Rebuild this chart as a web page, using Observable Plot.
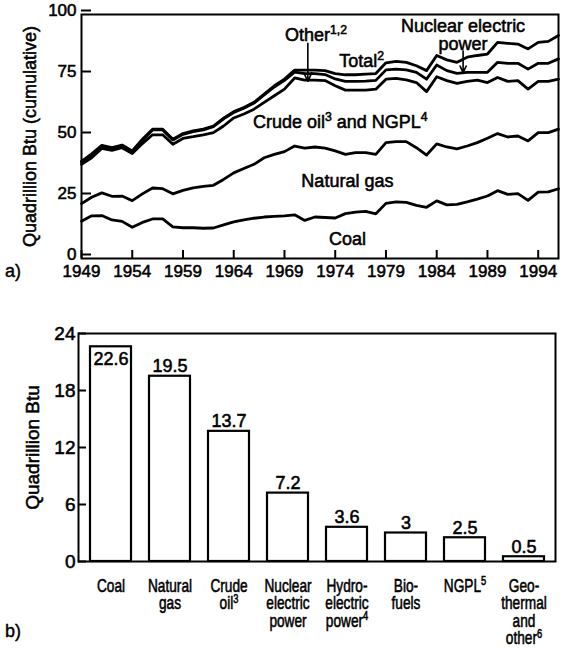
<!DOCTYPE html>
<html><head><meta charset="utf-8">
<script src="https://cdn.jsdelivr.net/npm/d3@7"></script>
<script src="https://cdn.jsdelivr.net/npm/@observablehq/plot@0.6"></script>
<style>
body{margin:0;background:#fff;}
#wrap{position:relative;width:561px;height:650px;background:#fff;}
#a,#b{position:absolute;left:0;}
#a{top:0}
#b{top:300px}
#wrap svg text{stroke:#000;stroke-width:0.55px;paint-order:stroke fill;}
.tag{position:absolute;left:5px;font:18px "Liberation Sans",Arial,sans-serif;color:#000;-webkit-text-stroke:0.4px #000;}
</style></head><body>
<div id="wrap"><div id="a"></div><div id="b"></div>
<div class="tag" style="top:261px">a)</div><div class="tag" style="top:621px">b)</div></div>
<script>
// ---- Panel a: cumulative production, quadrillion Btu ----
const years = [1949,1950,1951,1952,1953,1954,1955,1956,1957,1958,1959,1960,1961,1962,1963,1964,1965,1966,1967,1968,1969,1970,1971,1972,1973,1974,1975,1976,1977,1978,1979,1980,1981,1982,1983,1984,1985,1986,1987,1988,1989,1990,1991,1992,1993,1994,1995,1996];
const coal = [15.3,17.5,17.6,15.8,15.2,12.8,14.8,16.2,16.2,13.0,12.6,12.6,12.4,12.5,13.8,15.0,15.8,16.5,17.0,17.3,17.5,17.9,15.6,17.0,16.8,16.6,18.4,19.0,19.3,18.3,22.6,23.2,23.0,21.8,21.0,23.6,22.0,22.2,23.2,24.3,25.6,27.8,26.3,26.6,23.8,27.2,27.3,28.6];
const plusNaturalGas = [22.5,25.1,26.9,25.5,25.6,23.7,26.5,28.9,28.6,26.5,27.9,28.9,29.6,30.0,32.4,35.1,36.9,38.6,41.3,42.7,43.8,46.1,45.2,45.7,45.2,44.1,42.7,43.4,43.4,42.7,47.5,47.9,47.9,45.4,42.4,47.0,45.7,44.9,46.1,47.5,49.3,51.2,49.8,50.2,48.2,51.6,51.6,53.0];
const plusCrudeNgpl = [38.6,41.3,45.1,44.3,45.4,43.0,47.1,50.7,50.7,46.8,49.2,49.9,50.7,51.6,54.3,57.6,59.2,61.2,64.0,66.7,69.4,74.0,73.1,73.1,72.9,70.8,69.0,69.0,69.0,69.4,73.5,73.8,73.2,72.1,68.4,74.5,72.9,71.8,72.6,73.1,72.1,74.2,72.6,72.9,69.4,72.6,72.6,73.5];
const plusOther = [39.6,42.5,46.0,45.1,46.2,43.8,48.5,52.7,52.7,48.6,50.9,52.0,52.7,54.0,57.2,59.8,61.6,63.7,67.0,70.3,73.0,76.4,75.8,75.8,75.4,73.6,72.6,72.6,72.7,73.0,77.3,77.6,77.3,76.3,73.5,79.3,77.0,75.9,76.3,76.3,76.3,80.4,80.0,80.0,77.6,80.0,80.0,81.8];
const totalWithNuclear = [39.8,42.9,46.4,45.4,46.5,44.1,48.9,53.0,53.0,48.9,51.2,52.3,53.0,54.3,57.5,60.2,61.9,64.0,67.4,70.8,73.5,77.2,77.2,77.2,77.0,75.8,75.3,75.3,75.6,75.8,80.2,80.8,80.4,79.0,77.0,83.2,81.4,80.4,82.5,83.2,83.8,88.6,88.2,87.9,85.9,88.6,89.0,91.4];
const seriesNames = ["Coal","Natural gas","Crude oil and NGPL","Other","Nuclear"];
const seriesValues = [coal, plusNaturalGas, plusCrudeNgpl, plusOther, totalWithNuclear];
const yearTicks = [1949,1954,1959,1964,1969,1974,1979,1984,1989,1994];
const valueTicksA = [0,25,50,75,100];

// annotation labels (anchored in data units)
const annoText = ["Other^1,2","Total^2","Nuclear electric\npower","Crude oil^3 and NGPL^4","Natural gas","Coal"];
const annoYear = [1972.1,1976.6,1986.6,1974.5,1975.2,1975.2];
const annoValue = [91.4,81.0,91.7,55.7,31.7,7.8];
const arrowYear = [1971.3,1986.6];
const arrowFrom = [88.2,85.0];
const arrowTo = [72.6,76.2];

// ---- Panel b: 1996 production by source ----
const sources = ["Coal","Natural\ngas","Crude\noil^3","Nuclear\nelectric\npower","Hydro-\nelectric\npower^4","Bio-\nfuels","NGPL^5","Geo-\nthermal\nand\nother^6"];
const quads = [22.6,19.5,13.7,7.2,3.6,3,2.5,0.5];
const quadLabels = ["22.6","19.5","13.7","7.2","3.6","3","2.5","0.5"];
const valueTicksB = [0,6,12,18,24];

const FONT = '"Liberation Sans", Arial, Helvetica, sans-serif';

const lineRows = [];
seriesNames.forEach((s, i) => years.forEach((yr, j) => lineRows.push({series: s, year: yr, value: seriesValues[i][j]})));
const annoRows = annoText.map((t, i) => ({text: t, year: annoYear[i], value: annoValue[i]}));
const arrowRows = arrowYear.map((yr, i) => ({year: yr, from: arrowFrom[i], to: arrowTo[i]}));

const chartA = Plot.plot({
  width: 561, height: 300,
  marginLeft: 81, marginRight: 3, marginTop: 14, marginBottom: 42,
  x: {domain: [1949, 1996]},
  y: {domain: [0, 100]},
  style: {fontFamily: FONT, fontSize: "17px", color: "#000", background: "#fff", overflow: "visible"},
  marks: [
    Plot.axisX({ticks: yearTicks, tickFormat: d => String(d), tickSize: -8, tickPadding: 14, strokeWidth: 2, fontSize: 17, label: null}),
    Plot.axisY({ticks: valueTicksA, tickSize: -10, tickPadding: 15, strokeWidth: 2, fontSize: 17, dy: -4, label: null}),
    Plot.text(["Quadrillion Btu (cumulative)"], {frameAnchor: "left", textAnchor: "middle", dx: -51, rotate: -90, fontSize: 18}),
    Plot.line(lineRows, {x: "year", y: "value", z: "series", stroke: "#000", strokeWidth: 2.8, strokeLinejoin: "round"}),
    Plot.text(annoRows, {x: "year", y: "value", text: "text", fontSize: 18, lineHeight: 1.0, fill: "#000"}),
    Plot.arrow(arrowRows, {x1: "year", y1: "from", x2: "year", y2: "to", stroke: "#000", strokeWidth: 1.6, headLength: 9, headAngle: 50}),
    Plot.frame({stroke: "#000", strokeWidth: 2})
  ]
});

const barRows = sources.map((s, i) => ({source: s, value: quads[i], label: quadLabels[i]}));
const yMaxB = 24;
const chartB = Plot.plot({
  width: 561, height: 350,
  marginLeft: 78, marginRight: 6, marginTop: 33, marginBottom: 89,
  x: {domain: sources, paddingInner: 0.31, paddingOuter: 0.155},
  y: {domain: [0, yMaxB]},
  style: {fontFamily: FONT, fontSize: "17px", color: "#000", background: "#fff", overflow: "visible"},
  marks: [
    Plot.barY(barRows, {x: "source", y: "value", fill: "#fff", stroke: "#000", strokeWidth: 2.2}),
    Plot.text(barRows, {filter: d => d.value <= yMaxB - 2.5, x: "source", y: "value", text: "label", lineAnchor: "bottom", dy: -4, fontSize: 18}),
    Plot.text(barRows, {filter: d => d.value > yMaxB - 2.5, x: "source", y: "value", text: "label", lineAnchor: "top", dy: 5, fontSize: 18}),
    Plot.axisX({tickSize: 0, tickPadding: 18, fontSize: 18, lineHeight: 0.97, label: null}),
    Plot.axisY({ticks: valueTicksB, tickSize: -8, tickPadding: 11, strokeWidth: 2, fontSize: 19, label: null}),
    Plot.text(["Quadrillion Btu"], {frameAnchor: "left", textAnchor: "middle", dx: -46, rotate: -90, fontSize: 19}),
    Plot.frame({stroke: "#000", strokeWidth: 2})
  ]
});

const ns = "http://www.w3.org/2000/svg";
function supify(root) {
  root.querySelectorAll("text, tspan").forEach(el => {
    if (el.querySelector("tspan")) return;
    const t = el.textContent;
    if (!t.includes("^")) return;
    const parts = t.split(/\^([0-9,]+)/);
    el.textContent = "";
    parts.forEach((p, i) => {
      if (!p) return;
      if (i % 2 === 0) el.appendChild(document.createTextNode(p));
      else {
        const s = document.createElementNS(ns, "tspan");
        s.setAttribute("baseline-shift", "super");
        s.setAttribute("font-size", "68%");
        s.textContent = p;
        el.appendChild(s);
      }
    });
  });
}
supify(chartA); supify(chartB);
// condensed look for the category labels of panel b
chartB.querySelectorAll('g[aria-label="x-axis tick label"] text').forEach(t => {
  const tr = t.getAttribute("transform") || "";
  t.setAttribute("transform", tr + " scale(0.76,1)");
});
document.getElementById("a").appendChild(chartA);
document.getElementById("b").appendChild(chartB);
</script>
</body></html>
